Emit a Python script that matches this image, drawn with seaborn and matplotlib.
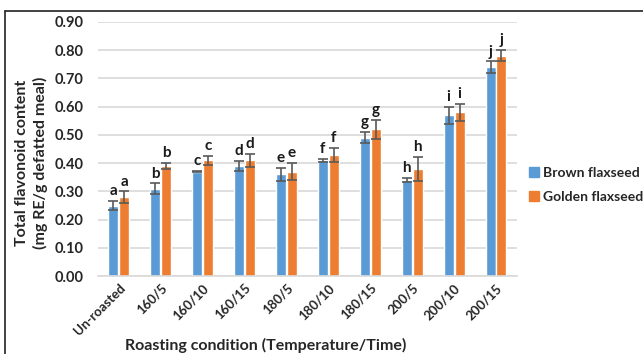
import matplotlib
matplotlib.use("Agg")
import matplotlib.pyplot as plt
import seaborn as sns
import pandas as pd
import numpy as np
from matplotlib.lines import Line2D

categories = ["Un-roasted", "160/5", "160/10", "160/15", "180/5", "180/10", "180/15", "200/5", "200/10", "200/15"]
brown = [0.25, 0.31, 0.37, 0.39, 0.36, 0.41, 0.49, 0.34, 0.57, 0.74]
golden = [0.28, 0.39, 0.41, 0.41, 0.37, 0.43, 0.52, 0.38, 0.58, 0.78]
brown_err = [0.015, 0.018, 0.003, 0.018, 0.022, 0.005, 0.02, 0.008, 0.03, 0.02]
golden_err = [0.02, 0.01, 0.017, 0.022, 0.03, 0.025, 0.033, 0.042, 0.03, 0.02]
letters = ["a", "b", "c", "d", "e", "f", "g", "h", "i", "j"]
series = ["Brown flaxseed", "Golden flaxseed"]
colors = ["#5B9BD5", "#ED7D31"]

df = pd.DataFrame({
    "cat": categories * 2,
    "val": brown + golden,
    "series": [series[0]] * len(categories) + [series[1]] * len(categories),
})

sns.set_theme(style="white")
plt.rcParams["font.family"] = ["Lato", "DejaVu Sans"]
plt.rcParams["font.weight"] = "bold"

fig = plt.figure(figsize=(6.43, 3.54), dpi=100)
ax = fig.add_axes([0.152, 0.220, 0.652, 0.718])

sns.barplot(data=df, x="cat", y="val", hue="series", palette=colors, ax=ax,
            width=0.52, gap=0.08, saturation=1, errorbar=None, legend=False)

bar_containers = list(ax.containers)
errs = [brown_err, golden_err]
vals = [brown, golden]
for si, cont in enumerate(bar_containers):
    for i, p in enumerate(cont.patches):
        xc = p.get_x() + p.get_width() / 2
        v = vals[si][i]
        e = errs[si][i]
        ax.errorbar(xc, v, yerr=e, fmt="none", ecolor="#595959", elinewidth=1.2,
                    capsize=3.5, capthick=1.2, zorder=5)
        ax.text(xc, v + e + 0.01, letters[i], ha="center", va="bottom",
                fontsize=11, fontweight="bold", color="#1a1a1a")

ax.set_ylim(0, 0.9)
ticks = np.arange(0, 0.91, 0.1)
ax.set_yticks(ticks)
ax.set_yticklabels([f"{t:.2f}" for t in ticks], fontsize=10.5, fontweight="bold")
ax.set_xticks(range(len(categories)))
ax.set_xticklabels(categories, rotation=45, ha="right", rotation_mode="anchor",
                   fontsize=9.5, fontweight="bold")
ax.set_xlim(-0.5, len(categories) - 0.5)
ax.yaxis.grid(True, color="#d9d9d9", linewidth=1.2)
ax.set_axisbelow(True)
for s in ["top", "right", "left"]:
    ax.spines[s].set_visible(False)
ax.spines["bottom"].set_color("#d9d9d9")
ax.spines["bottom"].set_linewidth(1.2)
ax.tick_params(axis="both", length=0, pad=4)
ax.tick_params(axis="y", pad=10)

ax.set_xlabel("Roasting condition (Temperature/Time)", fontsize=11.5, fontweight="bold")
ax.xaxis.set_label_coords(0.40, -0.245)
ax.set_ylabel("Total flavonoid content\n(mg RE/g defatted meal)", fontsize=11.5, fontweight="bold",
              linespacing=1.35)
ax.yaxis.set_label_coords(-0.118, 0.445)

handles = [Line2D([0], [0], marker="s", linestyle="none", markersize=7, color=c) for c in colors]
fig.legend(handles, series, loc="center left", bbox_to_anchor=(0.818, 0.477), frameon=False,
           handletextpad=0.0, labelspacing=0.85, borderpad=0, borderaxespad=0, handlelength=1.2,
           prop={"weight": "bold", "size": 10})

fig.add_artist(Line2D([0.008, 0.008], [0.0, 0.968], color="#222222", linewidth=1.2, transform=fig.transFigure))
fig.add_artist(Line2D([0.008, 1.0], [0.968, 0.968], color="#222222", linewidth=1.2, transform=fig.transFigure))

fig.savefig("out.png", dpi=100)
